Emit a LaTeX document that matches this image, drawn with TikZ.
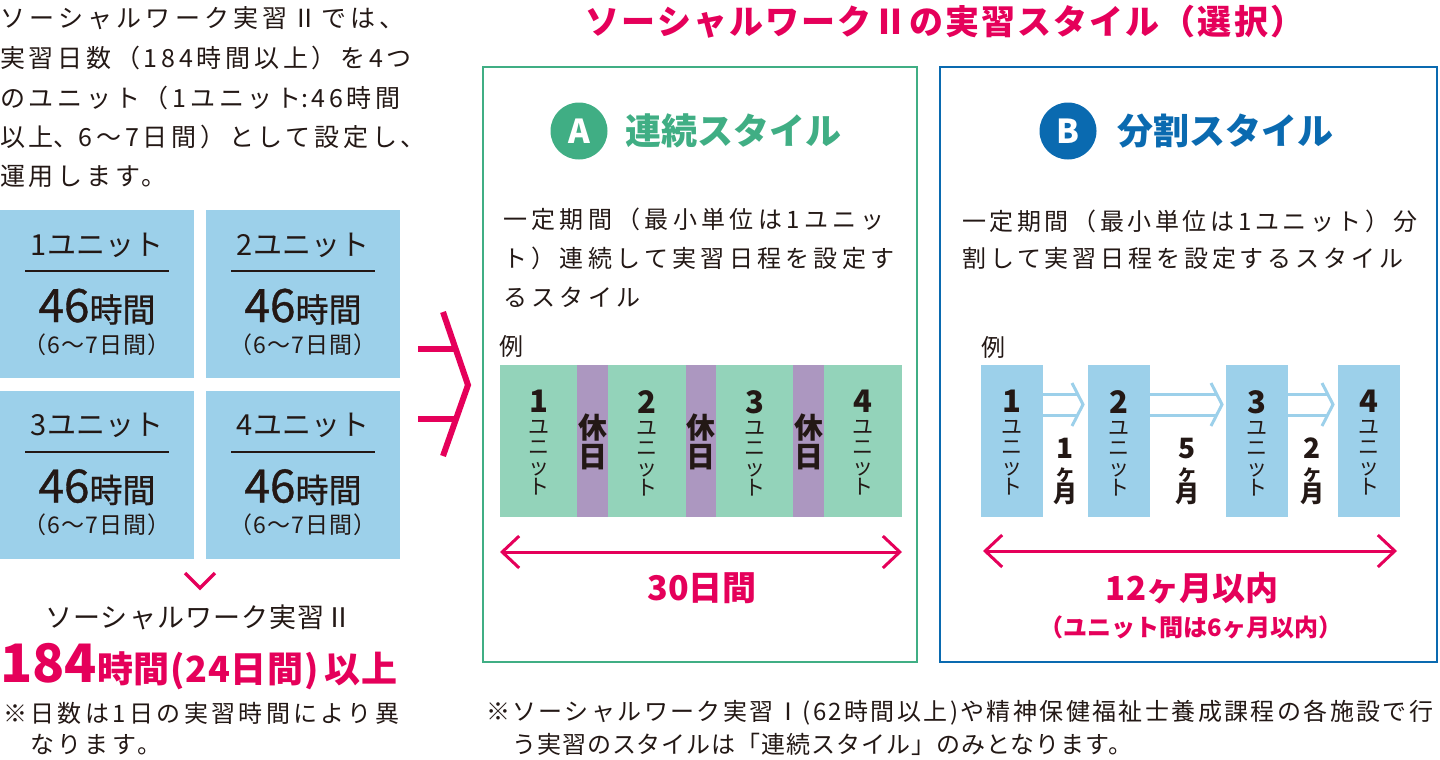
\documentclass[tikz,border=0pt]{standalone}
\usepackage{fontspec}
\setmainfont{Noto Sans CJK JP}
\usetikzlibrary{arrows.meta}
\definecolor{pink}{HTML}{E5005A}
\definecolor{ink}{HTML}{231815}
\definecolor{gborder}{HTML}{40AE84}
\definecolor{bblue}{HTML}{0A6AB0}
\definecolor{lblue}{HTML}{9CD0EA}
\definecolor{mgreen}{HTML}{93D3BA}
\definecolor{mpurple}{HTML}{AC97C0}
\newcommand{\fsz}[1]{\fontsize{#1}{#1}\selectfont}
\tikzset{
  txt/.style={inner sep=0pt, text=ink},
  lt/.style={txt, anchor=west, font=\fsz{25}\addfontfeature{LetterSpace=15}},
  body/.style={txt, anchor=west, font=\fsz{24}\addfontfeature{LetterSpace=18}},
  ubox/.style={fill=lblue, inner sep=0pt, minimum width=194, minimum height=168},
  rule/.style={draw=ink, line width=2},
  parr/.style={draw=pink, line width=3, {Straight Barb[length=17pt,width=32pt]}-{Straight Barb[length=17pt,width=32pt]}},
  larr/.style={draw=lblue, line width=3},
  seg/.style={inner sep=0pt, minimum height=152},
  vlab/.style={txt, align=center, anchor=north, font=\fontsize{21}{20}\selectfont},
  yasumi/.style={txt, align=center, font=\fontsize{29}{29}\selectfont\bfseries},
  mon/.style={txt, align=center, anchor=north, font=\fontsize{24}{22}\selectfont\bfseries},
}
\begin{document}
\begin{tikzpicture}[x=1pt,y=-1pt]
\useasboundingbox (0,0) rectangle (1440,760);

% ---------- left intro text
\node[lt, font=\fsz{25}\addfontfeature{LetterSpace=17}] (l1) at (0,18) {ソーシャルワーク実習Ⅱでは、};
\node[lt] (l2) at (0,58) {実習日数（184時間以上）を4つ};
\node[lt] (l3) at (0,98) {のユニット（1ユニット{\addfontfeature{LetterSpace=0}:\hspace{3pt}}46時間};
\node[lt] (l4) at (0,137) {以上{\addfontfeature{LetterSpace=0}、}6〜7日間）として設定し、};
\node[lt] (l5) at (0,176) {運用します。};

% ---------- unit boxes
\foreach \i/\cx/\cy in {1/97/294, 2/303/294, 3/97/474.5, 4/303/474.5} {
  \node[ubox] (u\i) at (\cx,\cy) {};
  \node[txt, anchor=base, font=\fsz{29}] (u\i t) at (\cx,\cy-39) {\i ユニット};
  \draw[rule] (\cx-72,\cy-23) -- (\cx+72,\cy-23);
  \node[txt, anchor=base] (u\i h) at (\cx,\cy+28) {\addfontfeature{FakeBold=0.8}{\fsz{46}46}{\fsz{33}時間}};
  \node[txt, anchor=base, font=\fsz{23}\addfontfeature{LetterSpace=4}] (u\i d) at (\cx,\cy+59) {（6〜7日間）};
}

% down chevron
\draw[pink, line width=3.5] (185,573) -- (200,588) -- (215,573);

\node[txt, font=\fsz{27}\addfontfeature{LetterSpace=4}] (sw2) at (199,617) {ソーシャルワーク実習Ⅱ};
\node[txt, anchor=base west, text=pink] (total) at (0,682)
  {{\fsz{53}\bfseries 184}{\fsz{36}\bfseries\addfontfeature{LetterSpace=2}時間(24日間)\hspace{6pt}以上}};
\node[txt, anchor=west, font=\fsz{24}\addfontfeature{LetterSpace=14}] (n1) at (3,713) {※日数は1日の実習時間により異};
\node[txt, anchor=west, font=\fsz{24}\addfontfeature{LetterSpace=14}] (n2) at (30,745) {なります。};

% ---------- middle connector
\coordinate (c1) at (418,349);
\coordinate (c2) at (418,419);
\coordinate (k1) at (443,312);
\coordinate (k2) at (468,385);
\coordinate (k3) at (443,456);
\draw[pink, line width=6] (c1) -- (456,349) (c2) -- (456,419);
\draw[pink, line width=6, line join=miter] (k1) -- (k2) -- (k3);

% ---------- title
\node[txt, text=pink, font=\fsz{34}\bfseries\addfontfeature{LetterSpace=6}] (title) at (945,22) {ソーシャルワークⅡの実習スタイル（選択）};

% ---------- box A
\node[draw=gborder, line width=2, inner sep=0pt, minimum width=434, minimum height=595] (boxA) at (700,364.5) {};
\node[circle, fill=gborder, minimum size=57, inner sep=0pt, text=white, font=\fsz{33}\bfseries] (circA) at (579,131) {A};
\node[txt, anchor=west, text=gborder, font=\fsz{36}\bfseries] (styA) at (625,131) {連続スタイル};
\node[body] (a1) at (503,219) {一定期間（最小単位は1ユニッ};
\node[body] (a2) at (503,258) {ト）連続して実習日程を設定す};
\node[body] (a3) at (503,297) {るスタイル};
\node[txt, font=\fsz{24}] (exA) at (511,346) {例};

\foreach \n/\a/\b/\c in {g1/500/577/mgreen, p1/577/608/mpurple, g2/608/686/mgreen, p2/686/716/mpurple, g3/716/793/mgreen, p3/793/824/mpurple, g4/824/902/mgreen} {
  \node[seg, fill=\c, minimum width=\b-\a] (\n) at ({(\a+\b)/2},441) {};
}
\foreach \i/\x in {1/538.5, 2/647, 3/754.5, 4/863} {
  \node[vlab] (ga\i) at (\x,390) {{\fsz{31}\bfseries \i}\\[2pt]ユ\\ニ\\ッ\\ト};
}
\foreach \i/\x in {1/592.5, 2/701, 3/808.5} {
  \node[yasumi] (ya\i) at (\x,441.5) {休\\日};
}
\coordinate (aL) at (500,552);
\coordinate (aR) at (902,552);
\draw[parr] (aL) -- (aR);
\node[txt, text=pink, font=\fsz{34}\bfseries] (d30) at (702,588) {30日間};

% ---------- box B
\node[draw=bblue, line width=2, inner sep=0pt, minimum width=497, minimum height=595] (boxB) at (1188.5,364.5) {};
\node[circle, fill=bblue, minimum size=57, inner sep=0pt, text=white, font=\fsz{33}\bfseries] (circB) at (1068,131) {B};
\node[txt, anchor=west, text=bblue, font=\fsz{36}\bfseries] (styB) at (1117,131) {分割スタイル};
\node[body, font=\fsz{24}\addfontfeature{LetterSpace=15}] (b1t) at (962,221) {一定期間（最小単位は1ユニット）分};
\node[body, font=\fsz{24}\addfontfeature{LetterSpace=16}] (b2t) at (962,258) {割して実習日程を設定するスタイル};
\node[txt, font=\fsz{24}] (exB) at (993,347) {例};

\foreach \i/\x in {1/1011.5, 2/1119, 3/1257, 4/1368.5} {
  \node[seg, fill=lblue, minimum width=62] (bu\i) at (\x,441) {};
  \node[vlab] (bd\i) at (\x,390) {{\fsz{31}\bfseries \i}\\[2pt]ユ\\ニ\\ッ\\ト};
}
% light blue arrows between units
\foreach \s/\e/\t in {1042/1078/1083, 1150/1217/1222, 1288/1328/1333} {
  \draw[larr] (\s,394) -- (\e,394) (\s,415) -- (\e,415);
  \draw[larr] (\t-11,383) -- (\t,404.5) -- (\t-11,426);
}
\foreach \i/\x/\m in {1/1065/1, 2/1187/5, 3/1312/2} {
  \node[mon] (mn\i) at (\x,438) {{\fsz{28}\m}\\{\fsz{20}ヶ}\\月};
}
\coordinate (bL) at (983,551);
\coordinate (bR) at (1397,551);
\draw[parr] (bL) -- (bR);
\node[txt, text=pink, font=\fsz{33}\bfseries] (m12) at (1192,588) {12ヶ月以内};
\node[txt, text=pink, font=\fsz{24}\bfseries] (m6) at (1191,627) {（ユニット間は6ヶ月以内）};

% ---------- footnote
\node[txt, anchor=west, font=\fsz{24}\addfontfeature{LetterSpace=10}] (f1) at (486,713) {※ソーシャルワーク実習Ⅰ(62時間以上)や精神保健福祉士養成課程の各施設で行};
\node[txt, anchor=west, font=\fsz{24}\addfontfeature{LetterSpace=4}] (f2) at (512,744) {う実習のスタイルは「連続スタイル」のみとなります。};
\end{tikzpicture}
\end{document}
